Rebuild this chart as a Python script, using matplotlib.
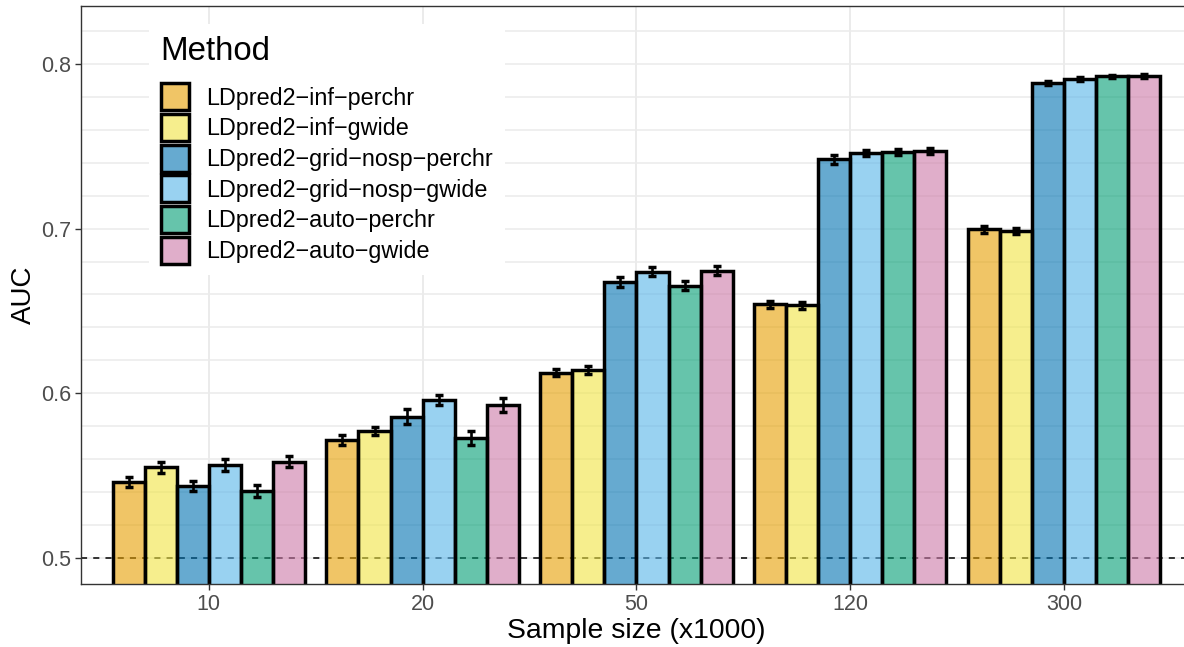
import matplotlib
matplotlib.use("Agg")
import matplotlib.pyplot as plt
from matplotlib.colors import to_rgba
from matplotlib.patches import Patch
from matplotlib.ticker import MultipleLocator
import numpy as np

plt.rcParams['font.family'] = ['Liberation Sans', 'DejaVu Sans']

sizes = ['10', '20', '50', '120', '300']
methods = ['LDpred2\u2212inf\u2212perchr', 'LDpred2\u2212inf\u2212gwide',
           'LDpred2\u2212grid\u2212nosp\u2212perchr', 'LDpred2\u2212grid\u2212nosp\u2212gwide',
           'LDpred2\u2212auto\u2212perchr', 'LDpred2\u2212auto\u2212gwide']
colors = ['#E69F00', '#F0E442', '#0072B2', '#56B4E9', '#009E73', '#CC79A7']

# mean AUC per method (rows) and sample size (columns)
auc = [
    [0.5463, 0.5715, 0.6125, 0.6541, 0.6995],
    [0.5550, 0.5771, 0.6142, 0.6535, 0.6985],
    [0.5437, 0.5858, 0.6674, 0.7421, 0.7883],
    [0.5565, 0.5960, 0.6739, 0.7458, 0.7909],
    [0.5407, 0.5727, 0.6654, 0.7464, 0.7925],
    [0.5585, 0.5929, 0.6745, 0.7472, 0.7927],
]
# half-width of the error bars
err = [
    [0.0030, 0.0030, 0.0022, 0.0022, 0.0020],
    [0.0032, 0.0027, 0.0022, 0.0022, 0.0020],
    [0.0033, 0.0045, 0.0030, 0.0027, 0.0012],
    [0.0038, 0.0032, 0.0025, 0.0018, 0.0012],
    [0.0036, 0.0044, 0.0029, 0.0018, 0.0010],
    [0.0035, 0.0040, 0.0025, 0.0018, 0.0010],
]

fig = plt.figure(figsize=(11.84, 6.47), dpi=100)
ax = fig.add_axes([80.5 / 1184, 1 - 584.3 / 647, (1192.4 - 80.5) / 1184, (584.3 - 5.5) / 647])

x = np.arange(1, len(sizes) + 1)
bw = 0.15
ax.axhline(0.5, color='black', lw=1.1, ls=(0, (4, 4)), zorder=1)
for i, m in enumerate(methods):
    pos = x + (i - 2.5) * bw
    ax.bar(pos, auc[i], width=bw, bottom=0, facecolor=to_rgba(colors[i], 0.6),
           edgecolor='black', linewidth=2.5, zorder=2)
    ax.errorbar(pos, auc[i], yerr=err[i], fmt='none', ecolor='black',
                elinewidth=1.9, capsize=3.2, capthick=2.5, zorder=3)

ax.set_xlim(0.4, 5.6)
ax.set_ylim(0.4840, 0.8355)
ax.set_xticks(x)
ax.set_xticklabels(sizes)
ax.yaxis.set_major_locator(MultipleLocator(0.1))
ax.yaxis.set_minor_locator(MultipleLocator(0.02))
ax.set_yticks([0.5, 0.6, 0.7, 0.8])
ax.set_yticklabels(['0.5', '0.6', '0.7', '0.8'])

ax.grid(True, which='both', axis='y', color='#EBEBEB', lw=1.1, zorder=0)
ax.grid(True, which='major', axis='x', color='#EBEBEB', lw=1.4, zorder=0)
ax.set_axisbelow(True)
ax.tick_params(axis='both', which='major', length=4, width=1, color='#333333',
               labelsize=15.5, labelcolor='#4D4D4D', pad=3)
ax.tick_params(axis='y', which='minor', length=0)
for s in ax.spines.values():
    s.set_color('#333333')
    s.set_linewidth(1.0)

ax.set_xlabel('Sample size (x1000)', fontsize=20.4, labelpad=2)
ax.set_ylabel('AUC', fontsize=20, labelpad=3)

handles = [Patch(facecolor=to_rgba(c, 0.6), edgecolor='black', linewidth=2.5) for c in colors]
leg = ax.legend(handles, methods, title='Method', loc='upper left',
                bbox_to_anchor=(149 / 1184, 1 - 24 / 647), bbox_transform=fig.transFigure,
                borderaxespad=0, fontsize=16.8, title_fontsize=23.8, alignment='left',
                frameon=True, fancybox=False, framealpha=1, edgecolor='none',
                handlelength=1.2, handleheight=1.4, labelspacing=0.16,
                handletextpad=0.75, borderpad=0.5)
leg.get_frame().set_facecolor('white')
# more room between the title and the keys
leg._legend_box.sep = 12

fig.savefig('out.png', dpi=100)
